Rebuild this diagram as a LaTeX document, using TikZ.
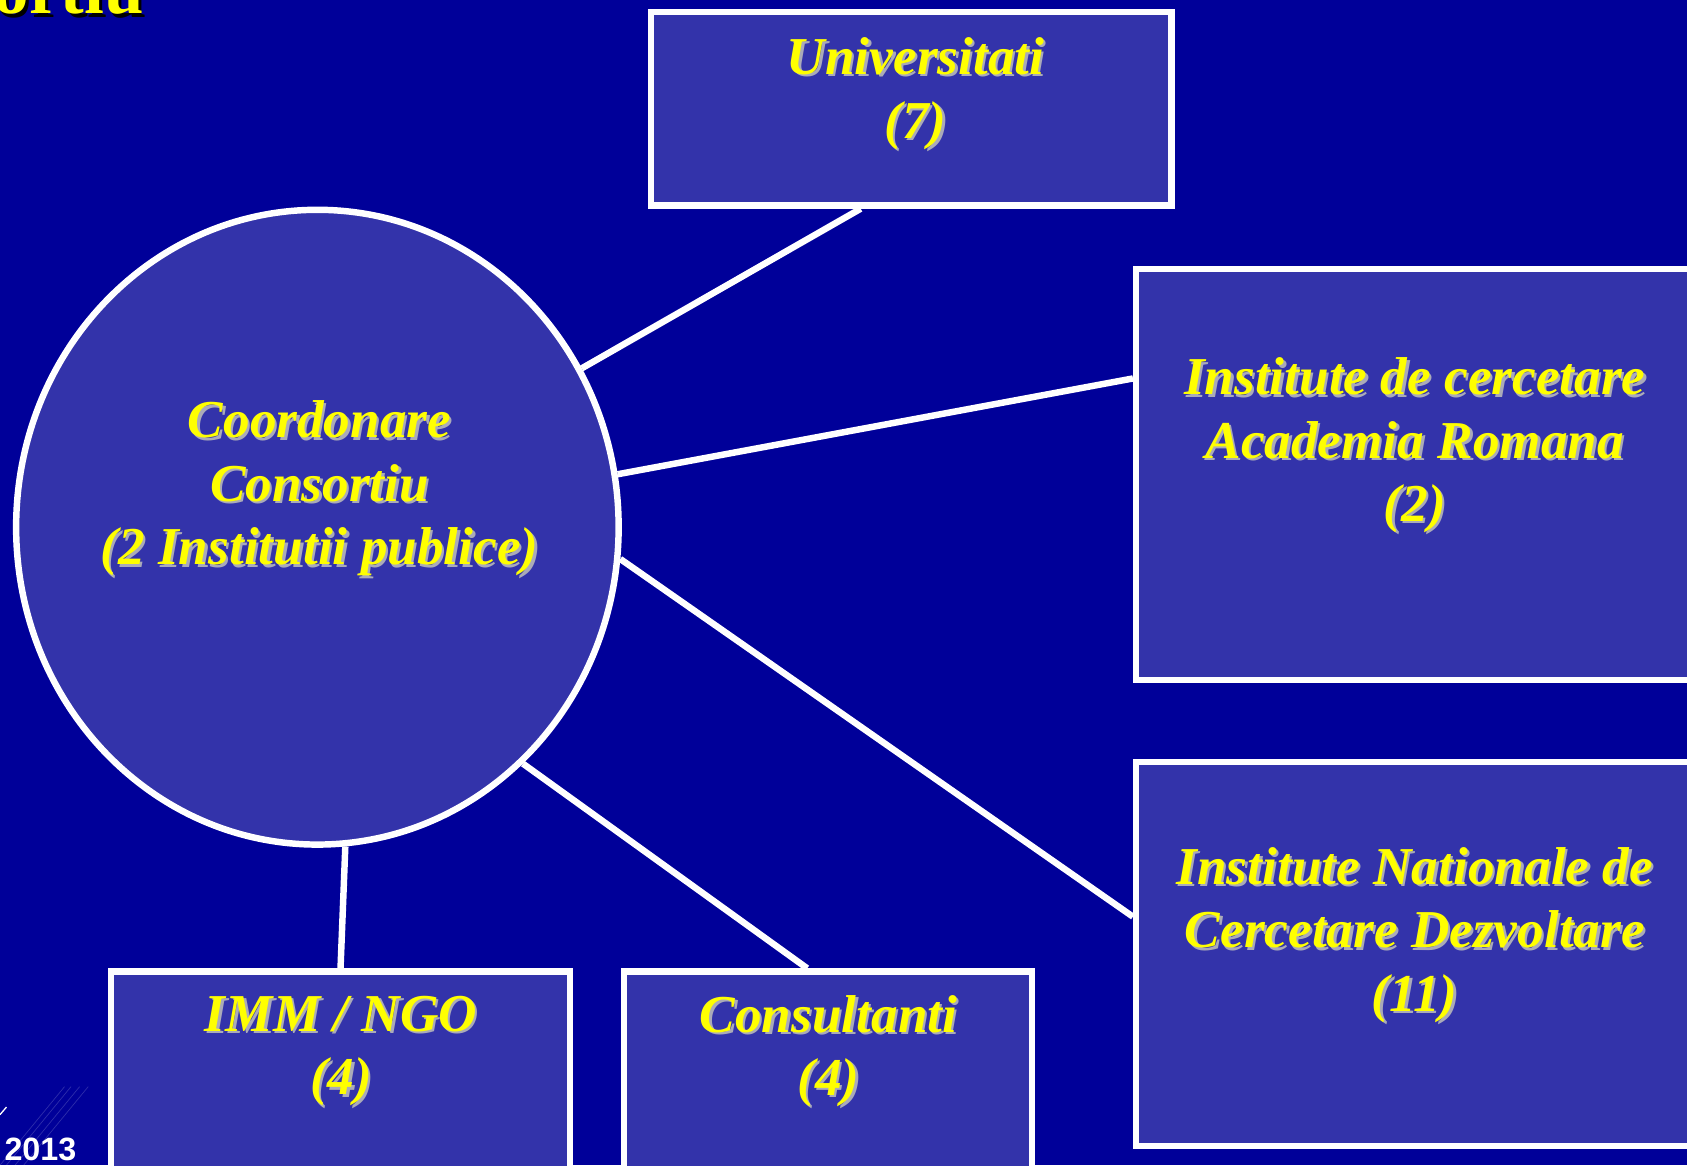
\documentclass[tikz,border=0pt]{standalone}
\usepackage{fontspec}
\setmainfont{Liberation Serif}
\newfontfamily\arialfont{Liberation Sans}
\usetikzlibrary{shapes.geometric,calc}
\definecolor{bgblue}{RGB}{0,0,153}
\definecolor{boxblue}{RGB}{51,51,170}
\definecolor{txtyellow}{RGB}{255,255,0}
\definecolor{shgray}{RGB}{170,170,185}
\newcommand\shd[1]{\leavevmode\rlap{\hspace{2.2pt}\raisebox{-2.2pt}{\color{shgray}#1}}#1}
\newcommand\shdk[1]{\leavevmode\rlap{\hspace{3pt}\raisebox{-3pt}{\color{black}#1}}#1}
\tikzset{
  panel/.style={draw=white, line width=6pt, fill=boxblue, rectangle, inner sep=0pt},
  label/.style={text=txtyellow, align=center, font=\fontsize{49.5}{59}\selectfont\bfseries\itshape, inner sep=0pt},
  link/.style={draw=white, line width=6pt}
}
\begin{document}
\begin{tikzpicture}[x=1pt,y=-1pt]
\useasboundingbox (0,0) rectangle (1568,1083);
\clip (0,0) rectangle (1568,1083);
\fill[bgblue] (0,0) rectangle (1568,1083);
% decorative faint lines bottom-left
\foreach \o in {0,6,14,22}{
  \draw[white, opacity=0.18, line width=0.6pt] (\o,1083) -- (\o+60,1010);
}
\draw[white, line width=1.2pt] (0,1036) -- (6,1029);
% title fragment
\node[anchor=base west, text=txtyellow, inner sep=0pt, font=\fontsize{66}{66}\selectfont\bfseries] (title) at (-6,13) {\shdk{ortiu}};
% nodes
\node[panel, minimum width=484pt, minimum height=180pt] (univ) at (847,101) {};
\node[panel, ellipse, minimum width=560pt, minimum height=590pt] (circ) at (295,490) {};
\node[panel, anchor=north west, minimum width=600pt, minimum height=382pt] (b2) at (1053,247) {};
\node[panel, anchor=north west, minimum width=600pt, minimum height=357pt] (b3) at (1053,705) {};
\node[panel, anchor=north west, minimum width=427pt, minimum height=220pt] (imm) at (100,900) {};
\node[panel, anchor=north west, minimum width=379pt, minimum height=220pt] (cons) at (577,900) {};
% connectors
\draw[link] (circ.31.5) -- ($(univ.south west)!0.404!(univ.south east)$);
\draw[link] (circ.10) -- ($(b2.north west)!0.27!(b2.south west)$);
\draw[link] (circ.-6.5) -- ($(b3.north west)!0.405!(b3.south west)$);
\draw[link] (circ.-49.5) -- ($(cons.north west)!0.45!(cons.north east)$);
\draw[link] (circ.-85.8) -- (imm.north);
% texts
\node[label] (tuniv) at (851,88) {\shd{Universitati}\\\shd{(7)}};
\node[label] (tcirc) at (297,455) {\shd{Coordonare}\\\shd{Consortiu}\\\shd{(2 Institutii publice)}};
\node[label] (tb2) at (1315,415) {\shd{Institute de cercetare}\\\shd{Academia Romana}\\\shd{(2)}};
\node[label] (tb3) at (1315,870) {\shd{Institute Nationale de}\\\shd{Cercetare Dezvoltare}\\\shd{(11)}};
\node[label] (timm) at (317,978) {\shd{IMM / NGO}\\\shd{(4)}};
\node[label] (tcons) at (770,978) {\shd{Consultanti}\\\shd{(4)}};
\node[anchor=base west, text=white, inner sep=0pt, font=\arialfont\fontsize{30}{30}\selectfont\bfseries] (year) at (4,1079) {2013};
\end{tikzpicture}
\end{document}
